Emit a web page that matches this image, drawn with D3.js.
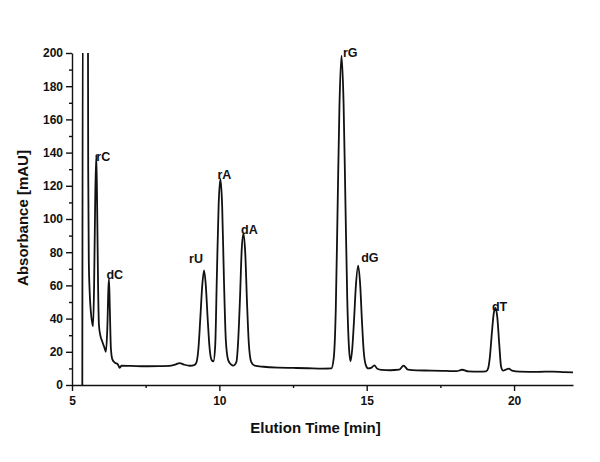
<!DOCTYPE html>
<html>
<head>
<meta charset="utf-8">
<script src="https://cdn.jsdelivr.net/npm/d3@7"></script>
<style>
  body { margin: 0; background: #fff; }
  text { font-family: "Liberation Sans", Arial, sans-serif; font-weight: bold; fill: #111; }
  .axis path, .axis line { stroke: #111; stroke-width: 1.4px; }
  .axis text { font-size: 12px; }
  .axisText { font-size: 15px; }
  .peakLabel { font-size: 12.5px; }
</style>
</head>
<body>
<div id="svg-area"></div>
<script>

// chromatogram trace (min, mAU)
var elutionTimes = [5.35, 5.37, 5.52, 5.54, 5.55, 5.57, 5.60, 5.64, 5.68, 5.715,
  5.75, 5.79, 5.825, 5.855, 5.885, 5.915, 5.96, 6.03, 6.10, 6.15,
  6.20, 6.235, 6.255, 6.285, 6.32, 6.37, 6.45, 6.56, 6.62, 6.68,
  7.0, 7.5, 8.0, 8.3, 8.5, 8.65, 8.8, 9.0, 9.15, 9.22,
  9.29, 9.355, 9.42, 9.48, 9.54, 9.60, 9.67, 9.74, 9.80, 9.86,
  9.915, 9.975, 10.035, 10.095, 10.155, 10.22, 10.30, 10.40, 10.48, 10.58,
  10.64, 10.70, 10.76, 10.82, 10.88, 10.94, 11.0, 11.08, 11.2, 11.5,
  12.0, 12.5, 13.0, 13.5, 13.8, 13.88, 13.95, 14.01, 14.075, 14.145,
  14.215, 14.28, 14.34, 14.40, 14.45, 14.51, 14.57, 14.63, 14.71, 14.78,
  14.84, 14.90, 14.97, 15.05, 15.15, 15.26, 15.36, 15.5, 15.8, 16.1,
  16.25, 16.4, 16.7, 17.2, 17.7, 18.05, 18.24, 18.45, 18.8, 19.05,
  19.12, 19.18, 19.25, 19.31, 19.37, 19.43, 19.50, 19.56, 19.63, 19.72,
  19.82, 19.93, 20.2, 20.8, 21.3, 21.7, 22.0];

var absorbance = [0, 260, 260, 230, 130, 75, 56, 44, 38, 35.4,
  60, 115, 138.8, 105, 60, 36, 30, 26, 22.5, 20,
  35, 58, 63.9, 45, 22, 15.4, 13.5, 12.3, 10.4, 11.6,
  11.5, 11.3, 11.4, 11.5, 12.3, 13.2, 12.3, 11.6, 12.0, 13.5,
  22, 40.5, 60, 69, 60, 41, 22, 15, 14.3, 24,
  65, 108, 124.1, 108, 64, 27, 15, 12.3, 11.7, 14,
  27, 52, 82, 91.2, 79, 49, 25, 14, 11.6, 11,
  10.5, 10.3, 10.1, 9.9, 10, 16, 45, 104, 168, 198.4,
  170, 108, 52, 22, 14.3, 22, 39, 59, 71.9, 60,
  38, 20, 12, 10, 10.3, 11.8, 9.8, 9.1, 8.9, 9.2,
  11.7, 9.3, 8.8, 8.7, 8.5, 8.3, 9.2, 8.2, 8.0, 8.2,
  10, 17, 32, 43, 46.5, 41, 24, 11, 8.6, 9.3,
  9.9, 8.7, 8.1, 7.9, 8.1, 7.8, 7.6];

// peak labels
var peakNames = ["rC", "dC", "rU", "rA", "dA", "rG", "dG", "dT"];
var peakTimes = [5.825, 6.255, 9.48, 10.035, 10.82, 14.145, 14.71, 19.37];
var peakHeights = [138.8, 63.9, 69, 124.1, 91.2, 198.4, 71.9, 46.5];

// ticks
var xTickValues = [5, 10, 15, 20];
var xMinorTicks = [7.5, 12.5, 17.5];
var yTickValues = [0, 20, 40, 60, 80, 100, 120, 140, 160, 180, 200];
var yMinorTicks = [10, 30, 50, 70, 90, 110, 130, 150, 170, 190];

var svgWidth = 600;
var svgHeight = 462;

var margin = {
  top: 53,
  right: 27,
  bottom: 77,
  left: 72
};

var chartWidth = svgWidth - margin.left - margin.right;
var chartHeight = svgHeight - margin.top - margin.bottom;

var svg = d3.select("#svg-area")
  .append("svg")
  .attr("width", svgWidth)
  .attr("height", svgHeight);

var chartGroup = svg.append("g")
  .attr("transform", `translate(${margin.left}, ${margin.top})`);

// scales
var xLinearScale = d3.scaleLinear()
  .domain([5, 22])
  .range([0, chartWidth]);

var yLinearScale = d3.scaleLinear()
  .domain([0, 200])
  .range([chartHeight, 0]);

// minor ticks first, so major ones sit on top
chartGroup.append("g")
  .attr("class", "axis")
  .attr("transform", `translate(0, ${chartHeight})`)
  .call(d3.axisBottom(xLinearScale).tickValues(xMinorTicks).tickSize(3).tickFormat(""))
  .select(".domain").remove();

chartGroup.append("g")
  .attr("class", "axis")
  .call(d3.axisLeft(yLinearScale).tickValues(yMinorTicks).tickSize(3).tickFormat(""))
  .select(".domain").remove();

var bottomAxis = d3.axisBottom(xLinearScale)
  .tickValues(xTickValues)
  .tickSizeInner(6)
  .tickSizeOuter(0)
  .tickPadding(5);

var leftAxis = d3.axisLeft(yLinearScale)
  .tickValues(yTickValues)
  .tickSizeInner(6)
  .tickSizeOuter(0)
  .tickPadding(3);

chartGroup.append("g")
  .attr("class", "axis")
  .attr("transform", `translate(0, ${chartHeight})`)
  .call(bottomAxis);

chartGroup.append("g")
  .attr("class", "axis")
  .call(leftAxis);

// clip the trace to the plot box (solvent front goes off scale)
chartGroup.append("clipPath")
  .attr("id", "plot-clip")
  .append("rect")
  .attr("x", 0)
  .attr("y", 0)
  .attr("width", chartWidth)
  .attr("height", chartHeight);

var trace = elutionTimes.map((t, i) => ({ t: t, v: absorbance[i] }));

var lineGen = d3.line()
  .x(d => xLinearScale(d.t))
  .y(d => yLinearScale(d.v))
  .curve(d3.curveMonotoneX);

chartGroup.append("path")
  .datum(trace)
  .attr("clip-path", "url(#plot-clip)")
  .attr("d", lineGen)
  .attr("fill", "none")
  .attr("stroke", "#111")
  .attr("stroke-width", 1.8)
  .attr("stroke-linejoin", "round");

// label offsets from each apex (dx, dy, anchor)
var labelOffsets = [[0, 6, "start"], [-2.5, 0, "start"], [-1, -7.5, "end"],
  [-3, 0, "start"], [-2.5, 0, "start"], [1.5, 1, "start"], [3, -4, "start"], [-3.5, 3, "start"]];

chartGroup.selectAll(".peakLabel")
  .data(peakNames)
  .enter()
  .append("text")
  .attr("class", "peakLabel")
  .attr("x", (d, i) => xLinearScale(peakTimes[i]) + labelOffsets[i][0])
  .attr("y", (d, i) => yLinearScale(peakHeights[i]) + labelOffsets[i][1])
  .attr("text-anchor", (d, i) => labelOffsets[i][2])
  .text(d => d);

// axes labels
chartGroup.append("text")
  .attr("transform", "rotate(-90)")
  .attr("y", 0 - margin.left + 28)
  .attr("x", 0 - 165)
  .attr("text-anchor", "middle")
  .attr("class", "axisText")
  .text("Absorbance [mAU]");

chartGroup.append("text")
  .attr("transform", `translate(${chartWidth / 2 - 7}, ${chartHeight + 48})`)
  .attr("text-anchor", "middle")
  .attr("class", "axisText")
  .text("Elution Time [min]");

</script>
</body>
</html>
